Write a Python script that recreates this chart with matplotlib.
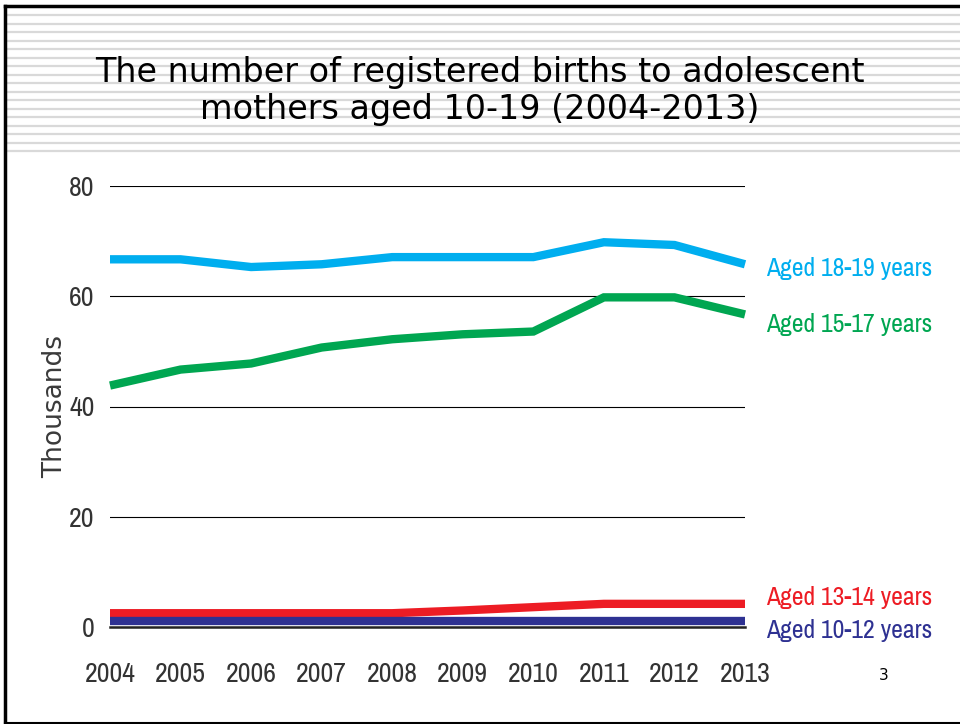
import matplotlib
matplotlib.use("Agg")
import matplotlib.pyplot as plt
from matplotlib.lines import Line2D
from matplotlib import font_manager

years = [2004, 2005, 2006, 2007, 2008, 2009, 2010, 2011, 2012, 2013]
aged_18_19 = [66.7, 66.7, 65.3, 65.8, 67.1, 67.1, 67.1, 69.8, 69.3, 65.8]
aged_15_17 = [43.8, 46.7, 47.8, 50.7, 52.2, 53.1, 53.6, 59.8, 59.8, 56.7]
aged_13_14 = [2.5, 2.5, 2.5, 2.5, 2.5, 3.0, 3.6, 4.2, 4.2, 4.2]
aged_10_12 = [1.1, 1.1, 1.1, 1.1, 1.1, 1.1, 1.1, 1.1, 1.1, 1.1]

series = [
    ("Aged 18-19 years", aged_18_19, "#00aeef"),
    ("Aged 15-17 years", aged_15_17, "#00a651"),
    ("Aged 13-14 years", aged_13_14, "#ed1c24"),
    ("Aged 10-12 years", aged_10_12, "#2e3192"),
]
label_y = [65.1, 54.9, 5.3, -0.7]

# look for a narrow sans for the axis numbers and series names
narrow_name = None
stretch = "normal"
for f in font_manager.fontManager.ttflist:
    if "Narrow" in f.name or "Condensed" in f.name:
        narrow_name = f.name
        break
if narrow_name is None:
    for f in font_manager.fontManager.ttflist:
        if f.stretch in ("condensed", "semi-condensed") and f.style == "normal":
            narrow_name = f.name
            stretch = f.stretch
            break
if narrow_name is None:
    narrow_name = "Roboto"
narrow = [narrow_name, "DejaVu Sans"]

fig = plt.figure(figsize=(9.6, 7.24), dpi=100)

# slide header stripes
for i in range(17):
    yy = 1 - (15 + i * 8.5) / 724
    fig.add_artist(Line2D([7 / 960, 1], [yy, yy], color="#d9d9d9", lw=1.6,
                          transform=fig.transFigure))

# slide frame
fig.add_artist(Line2D([5 / 960, 1], [1 - 6 / 724] * 2, color="black", lw=2.5,
                      transform=fig.transFigure))
fig.add_artist(Line2D([5 / 960] * 2, [0, 1 - 6 / 724], color="black", lw=2.5,
                      transform=fig.transFigure))
fig.add_artist(Line2D([5 / 960, 1], [1 - 722.5 / 724] * 2, color="black", lw=1.5,
                      transform=fig.transFigure))

fig.text(0.5, 1 - 91 / 724,
         "The number of registered births to adolescent\nmothers aged 10-19 (2004-2013)",
         ha="center", va="center", fontsize=24, family="DejaVu Sans",
         linespacing=1.12)

ax = fig.add_axes([110 / 960, 1 - 627 / 724, 635 / 960, 441 / 724])
ax.set_xlim(2004, 2013)
ax.set_ylim(0, 80)

for gy in [20, 40, 60, 80]:
    ax.axhline(gy, color="black", lw=0.8, zorder=1)
ax.axhline(0, color="#222222", lw=1.8, zorder=4, clip_on=False)

for (name, vals, col), ly in zip(series, label_y):
    ax.plot(years, vals, color=col, lw=6, solid_capstyle="butt",
            solid_joinstyle="miter", zorder=3, clip_on=False)
    ax.text(2013.3, ly, name, color=col, fontsize=18.5, family=narrow,
            fontstretch=stretch, va="center", ha="left")

for s in ax.spines.values():
    s.set_visible(False)
ax.set_yticks([0, 20, 40, 60, 80])
ax.set_xticks(years)
ax.tick_params(length=0)
ax.tick_params(axis="y", pad=11)
ax.tick_params(axis="x", pad=25)
for lab in ax.get_xticklabels() + ax.get_yticklabels():
    lab.set_family(narrow)
    lab.set_fontstretch(stretch)
    lab.set_fontsize(20)
    lab.set_color("#333333")

ax.set_ylabel("Thousands", fontsize=19, family="DejaVu Sans", color="#3a3a3a")
ax.yaxis.set_label_coords(-0.066, 0.5)

fig.text(884 / 960, 1 - 676 / 724, "3", fontsize=11, ha="center", va="center")

fig.savefig("out.png", dpi=100)
